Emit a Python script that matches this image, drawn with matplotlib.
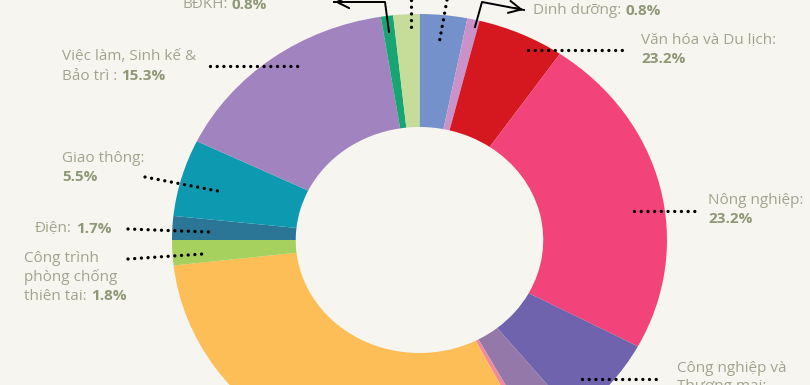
import matplotlib.pyplot as plt

# clockwise from 12 o'clock
sectors = ["Dinh dưỡng (xanh)", "Dinh dưỡng", "Văn hóa và Du lịch", "Nông nghiệp",
           "Công nghiệp và Thương mại", "Khác 1", "Khác 2", "Khác 3",
           "Công trình phòng chống thiên tai", "Điện", "Giao thông",
           "Việc làm, Sinh kế & Bảo trì", "BĐKH", "Khác 4"]
shares = [3.1, 0.8, 5.7, 23.2, 6.4, 2.9, 0.4, 30.7, 1.8, 1.7, 5.5, 15.3, 0.8, 1.7]
colors = ["#7591CB", "#C993C9", "#D5181F", "#F2447B", "#6E63AC", "#9478AA",
          "#F08A9A", "#FDBE58", "#A6D15F", "#2B7596", "#0D9AB1", "#A083BF",
          "#17A574", "#C5DD98"]

bg = "#F7F5EF"
txt = "#A0A58F"
txt_b = "#8E9877"

plt.rcParams['font.family'] = ['Open Sans', 'DejaVu Sans']

fig = plt.figure(figsize=(8.1, 3.85), dpi=100)
fig.patch.set_facecolor(bg)

# pie axes: centre at (419.5, 240) px, outer radii 247.5 x 226 px (image is stretched)
ax = fig.add_axes([0, 0, 1, 1])
ax.set_facecolor(bg)
ax.pie(shares, colors=colors, startangle=90, counterclock=False, radius=1,
       wedgeprops=dict(width=0.5, linewidth=0))
ax.set_aspect('auto')
ax.set_xlim(-419.5 / 247.5, (810 - 419.5) / 247.5)
ax.set_ylim(-(385 - 240) / 226, 240 / 226)
ax.axis('off')

# overlay in pixel coords for labels and leader lines
ov = fig.add_axes([0, 0, 1, 1])
ov.set_xlim(0, 810)
ov.set_ylim(385, 0)
ov.axis('off')
ov.patch.set_alpha(0)

dot = dict(color="black", lw=2.4, linestyle=(0, (0.01, 2.0)), dash_capstyle='round')

def dotted(x0, y0, x1, y1):
    ov.plot([x0, x1], [y0, y1], **dot)

fs = 11

def label(x, y, parts):
    # parts: list of lines; each line is list of (text, bold)
    for i, line in enumerate(parts):
        cx = x
        for s, b in line:
            t = ov.text(cx, y + i * 19, s, fontsize=fs, va='center', ha='left',
                        color=txt_b if b else txt, fontweight='bold' if b else 'normal')
            fig.canvas.draw()
            cx += t.get_window_extent().width + 4

# top arrows
ov.plot([389, 385, 334], [32, 2, 2], color="black", lw=1.4)
ov.annotate('', xy=(332, 2), xytext=(345, 2),
            arrowprops=dict(arrowstyle='->', lw=1.4, color='black', mutation_scale=22))
ov.plot([475, 482, 524], [27, 2, 10], color="black", lw=1.4)
ov.annotate('', xy=(526, 10.5), xytext=(512, 7.5),
            arrowprops=dict(arrowstyle='->', lw=1.4, color='black', mutation_scale=22))
dotted(411, 0, 411, 32)
dotted(447, 0, 439, 44)

# leader lines
dotted(528, 50, 622, 50)
dotted(634, 211, 695, 211)
dotted(582, 379, 662, 379)
dotted(210, 66, 303, 66)
dotted(145, 177, 223, 192)
dotted(128, 229, 209, 232)
dotted(128, 259, 203, 254)

label(182, 5, [[("BĐKH:", False), ("0.8%", True)]])
label(533, 11, [[("Dinh dưỡng:", False), ("0.8%", True)]])
label(641, 40, [[("Văn hóa và Du lịch:", False)], [("23.2%", True)]])
label(708, 200, [[("Nông nghiệp:", False)], [("23.2%", True)]])
label(677, 368, [[("Công nghiệp và", False)], [("Thương mại:", False)]])
label(62, 57, [[("Việc làm, Sinh kế &", False)], [("Bảo trì :", False), ("15.3%", True)]])
label(62, 158, [[("Giao thông:", False)], [("5.5%", True)]])
label(35, 229, [[("Điện:", False), ("1.7%", True)]])
label(24, 258, [[("Công trình", False)], [("phòng chống", False)],
                [("thiên tai:", False), ("1.8%", True)]])

fig.savefig("out.png", dpi=100, facecolor=bg)
